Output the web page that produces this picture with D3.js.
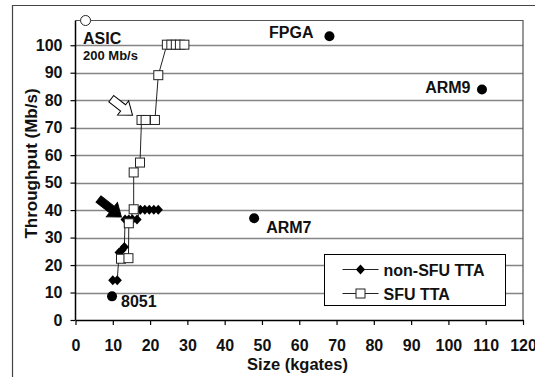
<!DOCTYPE html>
<html>
<head>
<meta charset="utf-8">
<script src="https://cdn.jsdelivr.net/npm/d3@7"></script>
<style>
  body { margin: 0; background: #fff; }
  svg { display: block; font-family: "Liberation Sans", Arial, sans-serif; font-weight: bold; fill: #111; }
</style>
</head>
<body>
<svg id="grafico" width="535" height="377"></svg>
<script>
// valores (kgates, Mb/s)
const naoSfuTamanho = [10, 11.2, 11.7, 12.4, 13.1, 13.3, 14.3, 15.3, 16.5, 17.4, 18.6, 19.8, 21.0, 22.2];
const naoSfuVazao   = [14.5, 14.5, 24.6, 25.4, 26.6, 36.6, 36.6, 36.6, 36.6, 40.1, 40.1, 40.1, 40.1, 40.1];

const sfuTamanho = [12.2, 14.2, 14.3, 15.6, 15.6, 17.3, 17.7, 18.8, 21.3, 22.2, 24.5, 25.7, 26.9, 28.0, 29.2];
const sfuVazao   = [22.3, 22.5, 35.2, 40.3, 53.7, 57.3, 72.8, 72.8, 72.8, 89.1, 100.2, 100.2, 100.2, 100.2, 100.2];

const referencias = ["8051", "ARM7", "FPGA", "ARM9"];
const refTamanho  = [9.8, 47.9, 68.1, 109];
const refVazao    = [8.6, 37.0, 103.3, 83.9];

const ticksX = [0, 10, 20, 30, 40, 50, 60, 70, 80, 90, 100, 110, 120];
const ticksY = [0, 10, 20, 30, 40, 50, 60, 70, 80, 90, 100];
const legenda = ["non-SFU TTA", "SFU TTA"];

const svg = d3.select("#grafico");
const x = d3.scaleLinear().domain([0, 120]).range([75.5, 523]);
const y = d3.scaleLinear().domain([0, 109]).range([320, 20.5]);

// moldura externa
svg.append("path").attr("d", "M12.5,377V5.5H535").attr("fill", "none").attr("stroke", "#444").attr("stroke-width", 1.2);

// grade
svg.append("g").selectAll("line").data(ticksY.slice(1)).enter().append("line")
  .attr("x1", x(0)).attr("x2", x(120)).attr("y1", d => Math.round(y(d)) + 0.5).attr("y2", d => Math.round(y(d)) + 0.5)
  .attr("stroke", "#858585").attr("stroke-width", 1.4);

// borda da area
svg.append("path").attr("d", `M${x(0)},${y(109)}H${x(120)}V${y(0)}`).attr("fill", "none").attr("stroke", "#555").attr("stroke-width", 1.2);

// eixos
const eixoX = svg.append("g").attr("transform", `translate(0,${y(0)})`)
  .call(d3.axisBottom(x).tickValues(ticksX).tickSize(5).tickPadding(15).tickSizeOuter(0));
const eixoY = svg.append("g").attr("transform", `translate(${x(0)},0)`)
  .call(d3.axisLeft(y).tickValues(ticksY).tickSize(5).tickPadding(8).tickSizeOuter(0));
[eixoX, eixoY].forEach(g => {
  g.select(".domain").attr("stroke", "#000").attr("stroke-width", 1.5);
  g.selectAll(".tick line").attr("stroke", "#000").attr("stroke-width", 1.2);
  g.selectAll("text").attr("font-family", "Liberation Sans, Arial, sans-serif").attr("font-weight", "bold")
    .attr("font-size", 16).attr("fill", "#111");
});
eixoY.select(".domain").attr("d", `M0,${y(109)}V${y(0)}`);

svg.append("text").attr("x", 297.5).attr("y", 370).attr("text-anchor", "middle").attr("font-size", 16.5).text("Size (kgates)");
svg.append("text").attr("transform", "translate(37,163.5) rotate(-90)").attr("text-anchor", "middle").attr("font-size", 17).text("Throughput (Mb/s)");

const linha = d3.line().x(d => x(d[0])).y(d => y(d[1]));
const losango = "M0,-5L4.6,0L0,5L-4.6,0Z";

// serie SFU
const sfu = sfuTamanho.map((t, i) => [t, sfuVazao[i]]);
svg.append("path").attr("d", linha(sfu)).attr("fill", "none").attr("stroke", "#222").attr("stroke-width", 1);

// serie nao-SFU
const naoSfu = naoSfuTamanho.map((t, i) => [t, naoSfuVazao[i]]);
svg.append("path").attr("d", linha(naoSfu)).attr("fill", "none").attr("stroke", "#222").attr("stroke-width", 1);
svg.append("g").selectAll("path").data(naoSfu).enter().append("path")
  .attr("transform", d => `translate(${x(d[0])},${y(d[1])})`).attr("d", losango).attr("fill", "#000");

svg.append("g").selectAll("rect").data(sfu).enter().append("rect")
  .attr("x", d => x(d[0]) - 4.5).attr("y", d => y(d[1]) - 4.5).attr("width", 9).attr("height", 9)
  .attr("fill", "#fff").attr("stroke", "#222").attr("stroke-width", 1);

// processadores de referencia
svg.append("g").selectAll("circle").data(refTamanho).enter().append("circle")
  .attr("cx", d => x(d)).attr("cy", (d, i) => y(refVazao[i])).attr("r", 5).attr("fill", "#000");
const posRotulo = [[9, 10.5, "start"], [12, 14.7, "start"], [-16, 2, "end"], [-11.5, 4, "end"]];
svg.append("g").selectAll("text").data(referencias).enter().append("text")
  .attr("x", (d, i) => x(refTamanho[i]) + posRotulo[i][0]).attr("y", (d, i) => y(refVazao[i]) + posRotulo[i][1])
  .attr("text-anchor", (d, i) => posRotulo[i][2]).attr("font-size", 16).text(d => d);

// ASIC (fora de escala)
svg.append("circle").attr("cx", x(2.7)).attr("cy", y(109)).attr("r", 5).attr("fill", "#fff").attr("stroke", "#222");
svg.append("text").attr("x", 83).attr("y", 44).attr("font-size", 16).text("ASIC");
svg.append("text").attr("x", 83).attr("y", 60).attr("font-size", 13).text("200 Mb/s");

// setas
function seta(px, py, ang, comp, preenchida) {
  const c = comp, h = 12, w = 4, hw = 9;
  const pts = [[0, -w], [c - h, -w], [c - h, -hw], [c, 0], [c - h, hw], [c - h, w], [0, w]];
  svg.append("path").attr("d", "M" + pts.map(p => p.join(",")).join("L") + "Z")
    .attr("transform", `translate(${px},${py}) rotate(${ang}) translate(${-c},0)`)
    .attr("fill", preenchida ? "#000" : "#fff").attr("stroke", "#000").attr("stroke-width", 1);
}
seta(x(12.3), y(37.5), 38, 29, true);
seta(x(15.3), y(74.5), 38, 27, false);

// legenda
const leg = svg.append("g").attr("transform", "translate(324.5,254.5)");
leg.append("rect").attr("width", 181).attr("height", 51).attr("fill", "#fff").attr("stroke", "#000").attr("stroke-width", 1);
legenda.forEach((nome, i) => {
  const ly = 15 + i * 24;
  leg.append("line").attr("x1", 18).attr("x2", 54).attr("y1", ly).attr("y2", ly).attr("stroke", "#222");
  if (i === 0) leg.append("path").attr("transform", `translate(36,${ly})`).attr("d", losango).attr("fill", "#000");
  else leg.append("rect").attr("x", 31.5).attr("y", ly - 4.5).attr("width", 9).attr("height", 9).attr("fill", "#fff").attr("stroke", "#222");
  leg.append("text").attr("x", 59).attr("y", ly + 6).attr("font-size", 16).text(nome);
});
</script>
</body>
</html>
